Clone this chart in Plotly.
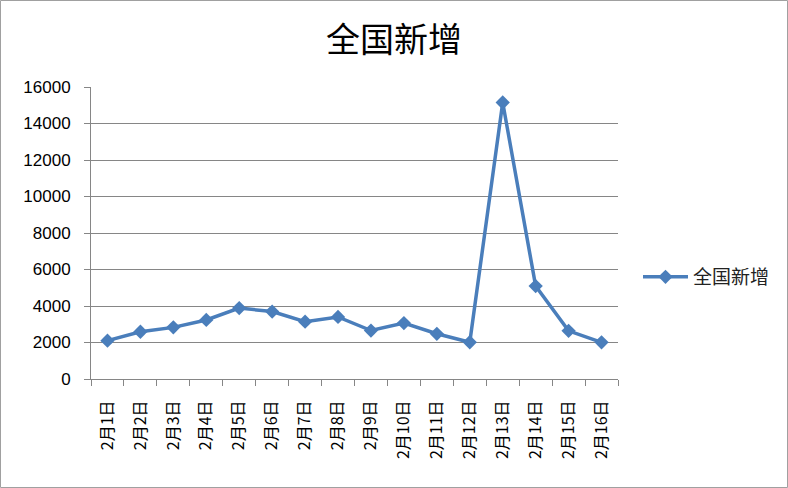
import plotly.graph_objects as go

dates = ["2月1日", "2月2日", "2月3日", "2月4日", "2月5日", "2月6日", "2月7日", "2月8日",
         "2月9日", "2月10日", "2月11日", "2月12日", "2月13日", "2月14日", "2月15日", "2月16日"]
values = [2102, 2590, 2829, 3235, 3887, 3694, 3143, 3399,
          2656, 3062, 2478, 2015, 15152, 5090, 2641, 2009]
series_name = "全国新增"
y_ticks = [0, 2000, 4000, 6000, 8000, 10000, 12000, 14000, 16000]
y_tick_text = [str(v) for v in y_ticks]

W, H = 788, 488
L, R, T, B = 91, 170, 87, 109
pw, ph = W - L - R, H - T - B

fig = go.Figure()
fig.add_trace(go.Scatter(
    x=dates, y=values, name=series_name, mode="lines+markers",
    line=dict(color="#4A7EBB", width=3.5),
    marker=dict(symbol="diamond", size=11, color="#4A7EBB"),
))

fig.update_layout(
    width=W, height=H,
    margin=dict(l=L, r=R, t=T, b=B),
    paper_bgcolor="white", plot_bgcolor="white",
    title=dict(text="全国新增", x=0.5, xref="container", xanchor="center",
               y=1 - 40 / H, yanchor="middle",
               font=dict(family="Noto Sans CJK SC", size=34, color="black")),
    showlegend=True,
    legend=dict(x=1 + 20 / pw, xanchor="left", y=1 - (277 - T) / ph, yanchor="middle",
                itemwidth=45,
                font=dict(family="Noto Sans CJK SC", size=19, color="#222"),
                bgcolor="rgba(0,0,0,0)"),
    xaxis=dict(
        type="category", range=[-0.5, len(dates) - 0.5],
        tickson="boundaries", ticks="outside", ticklen=6, tickcolor="#868686",
        showline=True, linecolor="#868686", linewidth=1,
        showgrid=False, tickangle=-90, ticklabelstandoff=14,
        tickfont=dict(family="Noto Sans CJK SC", size=16, color="black"),
    ),
    yaxis=dict(
        range=[0, 16000], tickvals=y_ticks, ticktext=y_tick_text,
        ticks="outside", ticklen=6, tickcolor="#868686",
        showline=True, linecolor="#868686", linewidth=1,
        showgrid=True, gridcolor="#868686", gridwidth=1, zeroline=False,
        ticklabelstandoff=10,
        tickfont=dict(family="Liberation Sans", size=17, color="black"),
    ),
    shapes=[dict(type="rect", xref="paper", yref="paper",
                 x0=(-L + 0.5) / pw, x1=(W - L - 0.5) / pw,
                 y0=(-B + 0.5) / ph, y1=(H - B - 0.5) / ph,
                 line=dict(color="#A0A0A0", width=1), layer="below")],
)

fig.write_html("out.html")
